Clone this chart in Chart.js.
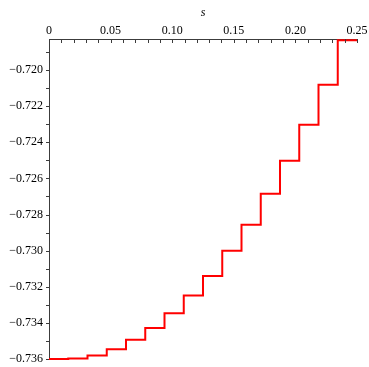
<!DOCTYPE html>
<html>
<head>
<meta charset="utf-8">
<script src="https://cdn.jsdelivr.net/npm/chart.js@4"></script>
<style>
  body { margin: 0; background: #fff; }
  #wrap { width: 369px; height: 367px; }
</style>
</head>
<body>
<div id="wrap"><canvas id="plot" width="369" height="367"></canvas></div>
<script>
// step positions along s and the value held on each step (last one repeated to close the step)
const sPoints = [0, 0.015625, 0.03125, 0.046875, 0.0625, 0.078125, 0.09375, 0.109375, 0.125,
                 0.140625, 0.15625, 0.171875, 0.1875, 0.203125, 0.21875, 0.234375, 0.25];
const stepValues = [-0.73600, -0.73597, -0.73581, -0.73546, -0.73494, -0.73429, -0.73346, -0.73249,
                    -0.73140, -0.73001, -0.72857, -0.72685, -0.72502, -0.72303, -0.72081, -0.71835, -0.71835];

// tick marks and labels
const xTickValues = [0, 0.01, 0.02, 0.03, 0.04, 0.05, 0.06, 0.07, 0.08, 0.09, 0.10, 0.11, 0.12, 0.13,
                     0.14, 0.15, 0.16, 0.17, 0.18, 0.19, 0.20, 0.21, 0.22, 0.23, 0.24, 0.25];
const xMajor = [0, 0.05, 0.10, 0.15, 0.20, 0.25];
const xMajorLabels = ['0', '0.05', '0.10', '0.15', '0.20', '0.25'];
const yTickValues = [-0.736, -0.735, -0.734, -0.733, -0.732, -0.731, -0.730, -0.729, -0.728,
                     -0.727, -0.726, -0.725, -0.724, -0.723, -0.722, -0.721, -0.720, -0.719];
const yMajor = [-0.736, -0.734, -0.732, -0.730, -0.728, -0.726, -0.724, -0.722, -0.720];
const yMajorLabels = ['\u22120.736', '\u22120.734', '\u22120.732', '\u22120.730', '\u22120.728',
                      '\u22120.726', '\u22120.724', '\u22120.722', '\u22120.720'];

const axisColor = '#3c3c3c';
const serif = "'Liberation Serif', 'Times New Roman', serif";

function labelFor(value, majors, labels) {
    const i = majors.findIndex(m => Math.abs(m - value) < 1e-9);
    return i >= 0 ? labels[i] : '';
}

// small tick marks drawn like Maple does (x ticks hang below the top axis, y ticks stick out left)
const tickMarks = {
    id: 'tickMarks',
    afterDraw(chart) {
        const { ctx, chartArea, scales } = chart;
        ctx.save();
        ctx.strokeStyle = axisColor;
        ctx.lineWidth = 1;
        ctx.beginPath();
        for (const v of xTickValues) {
            const px = Math.round(scales.x.getPixelForValue(v)) + 0.5;
            ctx.moveTo(px, chartArea.top);
            ctx.lineTo(px, chartArea.top + 4);
        }
        for (const v of yTickValues) {
            const py = Math.round(scales.y.getPixelForValue(v)) + 0.5;
            ctx.moveTo(chartArea.left - 3, py);
            ctx.lineTo(chartArea.left, py);
        }
        ctx.stroke();
        ctx.restore();
    }
};

const points = sPoints.map((s, i) => ({ x: s, y: stepValues[i] }));

new Chart(document.getElementById('plot'), {
    type: 'scatter',
    data: {
        datasets: [{
            data: points,
            showLine: true,
            stepped: true,
            borderColor: '#ff0000',
            borderWidth: 2,
            pointRadius: 0,
            clip: false
        }]
    },
    options: {
        responsive: false,
        animation: false,
        layout: { padding: { left: 0, top: 0, right: 12, bottom: 8 } },
        plugins: {
            legend: { display: false },
            tooltip: { enabled: false }
        },
        scales: {
            x: {
                type: 'linear',
                position: 'top',
                min: 0,
                max: 0.25,
                afterBuildTicks: scale => { scale.ticks = xTickValues.map(v => ({ value: v })); },
                afterFit: scale => {
                    scale.height = 39;
                    scale.paddingLeft = 0;
                    scale.paddingRight = 0;
                },
                grid: { display: false, drawTicks: false },
                border: { display: true, color: axisColor, width: 1 },
                title: {
                    display: true,
                    text: 's',
                    color: '#000',
                    font: { family: serif, size: 12, style: 'italic' },
                    padding: { top: 6, bottom: 0 }
                },
                ticks: {
                    autoSkip: false,
                    maxRotation: 0,
                    padding: 1,
                    color: '#000',
                    font: { family: serif, size: 12 },
                    callback: value => labelFor(value, xMajor, xMajorLabels)
                }
            },
            y: {
                type: 'linear',
                min: -0.736,
                max: -0.71828,
                afterBuildTicks: scale => { scale.ticks = yTickValues.map(v => ({ value: v })); },
                afterFit: scale => {
                    scale.width = 49;
                    scale.paddingTop = 0;
                    scale.paddingBottom = 0;
                },
                grid: { display: false, drawTicks: false },
                border: { display: true, color: axisColor, width: 1 },
                ticks: {
                    autoSkip: false,
                    padding: 6,
                    color: '#000',
                    font: { family: serif, size: 12 },
                    callback: value => labelFor(value, yMajor, yMajorLabels)
                }
            }
        }
    },
    plugins: [tickMarks]
});
</script>
</body>
</html>
